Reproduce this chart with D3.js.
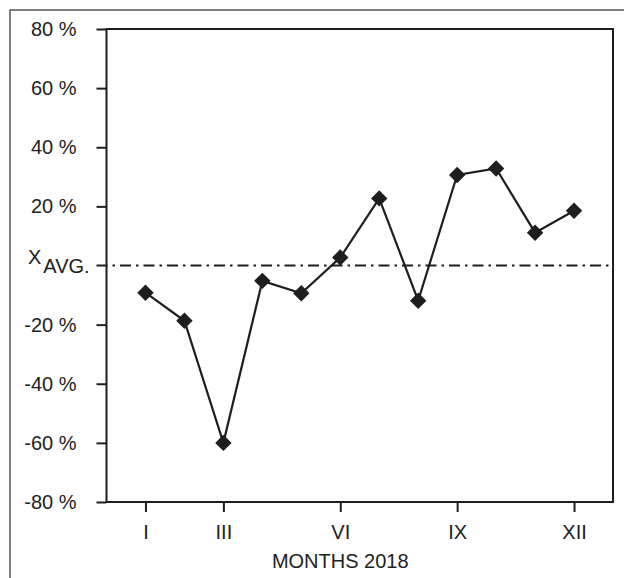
<!DOCTYPE html>
<html>
<head>
<meta charset="utf-8">
<script src="https://cdn.jsdelivr.net/npm/d3@7"></script>
<style>
  html, body { margin: 0; padding: 0; background: #fff; }
  svg { display: block; }
  text { font-family: "Liberation Sans", Arial, sans-serif; fill: #222; }
</style>
</head>
<body>
<svg id="chart" width="624" height="578"></svg>
<script>
// ---- data ----
const months = [1, 2, 3, 4, 5, 6, 7, 8, 9, 10, 11, 12];
const values = [-9.2, -18.7, -60.0, -5.2, -9.4, 2.7, 22.7, -11.9, 30.6, 32.8, 11.1, 18.5];
const xTickValues = [1, 3, 6, 9, 12];
const xTickLabels = ["I", "III", "VI", "IX", "XII"];
const yTickValues = [-80, -60, -40, -20, 0, 20, 40, 60, 80];
const xTitle = "MONTHS 2018";

(function () {
const svg = d3.select("#chart");
const pL = 106.5, pR = 613, pT = 29, pB = 502;
const ink = "#1e1e1e";

// outer frame
svg.append("rect").attr("x", 10).attr("y", 10).attr("width", 640).attr("height", 600)
  .attr("fill", "none").attr("stroke", "#555").attr("stroke-width", 1.5);

const x = d3.scaleLinear().domain([0, 13]).range([pL, pR]);
const y = d3.scaleLinear().domain([-80, 80]).range([pB, pT]);

// plot frame
svg.append("rect").attr("x", pL).attr("y", pT).attr("width", pR - pL).attr("height", pB - pT)
  .attr("fill", "none").attr("stroke", ink).attr("stroke-width", 2);

// y axis
const yAxis = d3.axisLeft(y).tickValues(yTickValues).tickSize(10).tickPadding(20)
  .tickFormat(d => d === 0 ? "" : d + " %");
const gy = svg.append("g").attr("transform", `translate(${pL},0)`).call(yAxis);
gy.select(".domain").remove();
gy.selectAll(".tick line").attr("stroke", ink).attr("stroke-width", 2);
gy.selectAll(".tick text").attr("font-size", 20).attr("fill", ink)
  .style("font-family", '"Liberation Sans", Arial, sans-serif');
gy.selectAll(".tick").filter(d => d === 0).select("line").remove();

// XAVG label
const avg = svg.append("text").attr("x", 28).attr("y", y(0) - 2).attr("font-size", 20).attr("fill", ink);
avg.append("tspan").text("X");
avg.append("tspan").attr("dy", 9).attr("dx", 2).attr("font-size", 20).text("AVG.");

// x axis
const xAxis = d3.axisBottom(x).tickValues(xTickValues).tickSize(10).tickPadding(13)
  .tickFormat((d, i) => xTickLabels[i]);
const gx = svg.append("g").attr("transform", `translate(0,${pB})`).call(xAxis);
gx.select(".domain").remove();
gx.selectAll(".tick line").attr("stroke", ink).attr("stroke-width", 2);
gx.selectAll(".tick text").attr("font-size", 20).attr("fill", ink)
  .style("font-family", '"Liberation Sans", Arial, sans-serif');

svg.append("text").attr("x", x(6)).attr("y", 568).attr("text-anchor", "middle")
  .attr("font-size", 20).attr("fill", ink).text(xTitle);

// average dash-dot line
svg.append("line").attr("x1", pL - 10).attr("x2", pR).attr("y1", y(0)).attr("y2", y(0))
  .attr("stroke", ink).attr("stroke-width", 1.8).attr("stroke-dasharray", "11,5,2.5,5");

// series line
const data = months.map((m, i) => ({ m, v: values[i] }));
svg.append("path").datum(data)
  .attr("d", d3.line().x(d => x(d.m)).y(d => y(d.v)))
  .attr("fill", "none").attr("stroke", ink).attr("stroke-width", 2.2);

// diamond markers
svg.selectAll(".pt").data(data).join("path").attr("class", "pt")
  .attr("d", d3.symbol().type(d3.symbolSquare).size(135))
  .attr("transform", d => `translate(${x(d.m)},${y(d.v)}) rotate(45)`)
  .attr("fill", ink);
})();
</script>
</body>
</html>
